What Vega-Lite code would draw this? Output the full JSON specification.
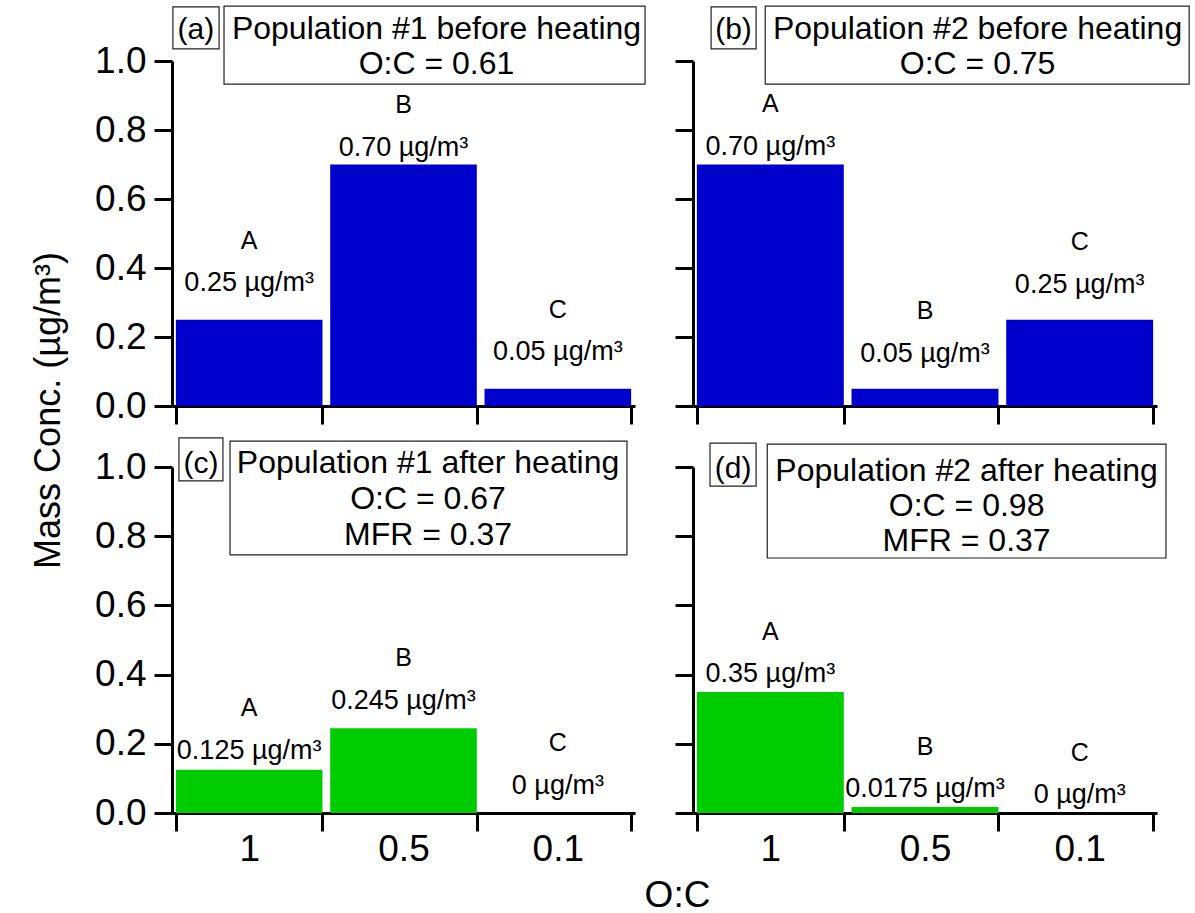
{
  "$schema": "https://vega.github.io/schema/vega-lite/v6.json",
  "background": "white",
  "padding": {"left": 30, "top": 5, "right": 0, "bottom": 0},
  "datasets": {
    "bars": [
      {"panel": "a", "oc": "1", "conc": 0.25, "name": "A", "label": "0.25 µg/m³"},
      {"panel": "a", "oc": "0.5", "conc": 0.70, "name": "B", "label": "0.70 µg/m³"},
      {"panel": "a", "oc": "0.1", "conc": 0.05, "name": "C", "label": "0.05 µg/m³"},
      {"panel": "b", "oc": "1", "conc": 0.70, "name": "A", "label": "0.70 µg/m³"},
      {"panel": "b", "oc": "0.5", "conc": 0.05, "name": "B", "label": "0.05 µg/m³"},
      {"panel": "b", "oc": "0.1", "conc": 0.25, "name": "C", "label": "0.25 µg/m³"},
      {"panel": "c", "oc": "1", "conc": 0.125, "name": "A", "label": "0.125 µg/m³"},
      {"panel": "c", "oc": "0.5", "conc": 0.245, "name": "B", "label": "0.245 µg/m³"},
      {"panel": "c", "oc": "0.1", "conc": 0, "name": "C", "label": "0 µg/m³"},
      {"panel": "d", "oc": "1", "conc": 0.35, "name": "A", "label": "0.35 µg/m³"},
      {"panel": "d", "oc": "0.5", "conc": 0.0175, "name": "B", "label": "0.0175 µg/m³"},
      {"panel": "d", "oc": "0.1", "conc": 0, "name": "C", "label": "0 µg/m³"}
    ],
    "notes": [
      {"panel": "a", "tag": "(a)", "title": "Population #1 before heating\nO:C = 0.61"},
      {"panel": "b", "tag": "(b)", "title": "Population #2 before heating\nO:C = 0.75"},
      {"panel": "c", "tag": "(c)", "title": "Population #1 after heating\nO:C = 0.67\nMFR = 0.37"},
      {"panel": "d", "tag": "(d)", "title": "Population #2 after heating\nO:C = 0.98\nMFR = 0.37"}
    ]
  },
  "concat": [
    {
      "width": 463, "height": 345,
      "layer": [
        {
          "data": {"name": "bars"},
          "transform": [{"filter": "datum.panel === 'a'"}],
          "encoding": {
            "x": {"field": "oc", "type": "nominal", "sort": ["1", "0.5", "0.1"],
              "scale": {"domain": ["1", "0.5", "0.1"], "paddingInner": 0.05, "paddingOuter": 0.025},
              "axis": {"labels": false, "title": null, "tickBand": "extent", "tickSize": 18, "tickWidth": 3, "domainWidth": 3}},
            "y": {"field": "conc", "type": "quantitative", "scale": {"domain": [0, 1], "nice": false},
              "axis": {"values": [0, 0.2, 0.4, 0.6, 0.8, 1.0], "format": ".1f", "tickSize": 18, "tickWidth": 3, "domainWidth": 3,
                "labelFontSize": 37, "labelPadding": 8,
                "title": "Mass Conc. (µg/m³)", "titleFontSize": 36, "titleX": -124, "titleY": 349, "titleAngle": 270,
                "titleAlign": "center", "titleBaseline": "middle"}}
          },
          "layer": [
            {"mark": {"type": "bar", "color": "#0000CC"}},
            {"transform": [{"filter": "datum.conc > 0.5"}], "mark": {"type": "text", "fontSize": 27, "dy": -9, "baseline": "alphabetic"}, "encoding": {"text": {"field": "label"}}},
            {"transform": [{"filter": "datum.conc <= 0.5"}], "mark": {"type": "text", "fontSize": 27, "dy": -29, "baseline": "alphabetic"}, "encoding": {"text": {"field": "label"}}},
            {"transform": [{"filter": "datum.conc > 0.5"}], "mark": {"type": "text", "fontSize": 25, "dy": -52, "baseline": "alphabetic"}, "encoding": {"text": {"field": "name"}}},
            {"transform": [{"filter": "datum.conc <= 0.5"}], "mark": {"type": "text", "fontSize": 25, "dy": -71, "baseline": "alphabetic"}, "encoding": {"text": {"field": "name"}}}
          ]
        },
        {
          "data": {"name": "notes"},
          "transform": [{"filter": "datum.panel === 'a'"}],
          "layer": [
            {"mark": {"type": "rect", "fill": "white", "stroke": "#222222", "strokeWidth": 1.2},
              "encoding": {"x": {"datum": 0.006, "type": "quantitative", "scale": {"domain": [0, 3]}, "axis": null}, "x2": {"datum": 0.305},
                "y": {"datum": 1.157, "type": "quantitative"}, "y2": {"datum": 1.035}}},
            {"mark": {"type": "rect", "fill": "white", "stroke": "#222222", "strokeWidth": 1.2},
              "encoding": {"x": {"datum": 0.337, "type": "quantitative", "scale": {"domain": [0, 3]}, "axis": null}, "x2": {"datum": 3.065},
                "y": {"datum": 1.159, "type": "quantitative"}, "y2": {"datum": 0.933}}},
            {"mark": {"type": "text", "fontSize": 30, "align": "center", "baseline": "alphabetic"},
              "encoding": {"x": {"datum": 0.155, "type": "quantitative", "scale": {"domain": [0, 3]}, "axis": null},
                "y": {"datum": 1.064, "type": "quantitative"}, "text": {"field": "tag"}}},
            {"mark": {"type": "text", "fontSize": 32, "align": "center", "baseline": "alphabetic", "lineBreak": "\n", "lineHeight": 35},
              "encoding": {"x": {"datum": 1.714, "type": "quantitative", "scale": {"domain": [0, 3]}, "axis": null},
                "y": {"datum": 1.064, "type": "quantitative"}, "text": {"field": "title"}}}
          ]
        }
      ],
      "resolve": {"scale": {"x": "independent"}}
    },
    {
      "width": 464, "height": 345,
      "layer": [
        {
          "data": {"name": "bars"},
          "transform": [{"filter": "datum.panel === 'b'"}],
          "encoding": {
            "x": {"field": "oc", "type": "nominal", "sort": ["1", "0.5", "0.1"],
              "scale": {"domain": ["1", "0.5", "0.1"], "paddingInner": 0.05, "paddingOuter": 0.025},
              "axis": {"labels": false, "title": null, "tickBand": "extent", "tickSize": 18, "tickWidth": 3, "domainWidth": 3}},
            "y": {"field": "conc", "type": "quantitative", "scale": {"domain": [0, 1], "nice": false},
              "axis": {"values": [0, 0.2, 0.4, 0.6, 0.8, 1.0], "labels": false, "tickSize": 18, "tickWidth": 3, "domainWidth": 3, "title": null}}
          },
          "layer": [
            {"mark": {"type": "bar", "color": "#0000CC"}},
            {"transform": [{"filter": "datum.conc > 0.5"}], "mark": {"type": "text", "fontSize": 27, "dy": -10, "baseline": "alphabetic"}, "encoding": {"text": {"field": "label"}}},
            {"transform": [{"filter": "datum.conc <= 0.5"}], "mark": {"type": "text", "fontSize": 27, "dy": -27, "baseline": "alphabetic"}, "encoding": {"text": {"field": "label"}}},
            {"transform": [{"filter": "datum.conc > 0.5"}], "mark": {"type": "text", "fontSize": 25, "dy": -53, "baseline": "alphabetic"}, "encoding": {"text": {"field": "name"}}},
            {"transform": [{"filter": "datum.conc <= 0.5"}], "mark": {"type": "text", "fontSize": 25, "dy": -70, "baseline": "alphabetic"}, "encoding": {"text": {"field": "name"}}}
          ]
        },
        {
          "data": {"name": "notes"},
          "transform": [{"filter": "datum.panel === 'b'"}],
          "layer": [
            {"mark": {"type": "rect", "fill": "white", "stroke": "#222222", "strokeWidth": 1.2},
              "encoding": {"x": {"datum": 0.117, "type": "quantitative", "scale": {"domain": [0, 3]}, "axis": null}, "x2": {"datum": 0.408},
                "y": {"datum": 1.157, "type": "quantitative"}, "y2": {"datum": 1.035}}},
            {"mark": {"type": "rect", "fill": "white", "stroke": "#222222", "strokeWidth": 1.2},
              "encoding": {"x": {"datum": 0.467, "type": "quantitative", "scale": {"domain": [0, 3]}, "axis": null}, "x2": {"datum": 3.208},
                "y": {"datum": 1.159, "type": "quantitative"}, "y2": {"datum": 0.933}}},
            {"mark": {"type": "text", "fontSize": 30, "align": "center", "baseline": "alphabetic"},
              "encoding": {"x": {"datum": 0.262, "type": "quantitative", "scale": {"domain": [0, 3]}, "axis": null},
                "y": {"datum": 1.064, "type": "quantitative"}, "text": {"field": "tag"}}},
            {"mark": {"type": "text", "fontSize": 32, "align": "center", "baseline": "alphabetic", "lineBreak": "\n", "lineHeight": 35},
              "encoding": {"x": {"datum": 1.84, "type": "quantitative", "scale": {"domain": [0, 3]}, "axis": null},
                "y": {"datum": 1.064, "type": "quantitative"}, "text": {"field": "title"}}}
          ]
        }
      ],
      "resolve": {"scale": {"x": "independent"}}
    },
    {
      "width": 463, "height": 346,
      "layer": [
        {
          "data": {"name": "bars"},
          "transform": [{"filter": "datum.panel === 'c'"}],
          "encoding": {
            "x": {"field": "oc", "type": "nominal", "sort": ["1", "0.5", "0.1"],
              "scale": {"domain": ["1", "0.5", "0.1"], "paddingInner": 0.05, "paddingOuter": 0.025},
              "axis": {"labelAngle": 0, "labelFontSize": 37, "labelPadding": 0, "tickBand": "extent", "tickSize": 18, "tickWidth": 3, "domainWidth": 3,
                "title": "O:C", "titleFontSize": 37, "titleX": 505, "titleY": 93, "titleAlign": "center", "titleBaseline": "alphabetic"}},
            "y": {"field": "conc", "type": "quantitative", "scale": {"domain": [0, 1], "nice": false},
              "axis": {"values": [0, 0.2, 0.4, 0.6, 0.8, 1.0], "format": ".1f", "tickSize": 18, "tickWidth": 3, "domainWidth": 3,
                "labelFontSize": 37, "labelPadding": 8, "title": null}}
          },
          "layer": [
            {"mark": {"type": "bar", "color": "#00CC00"}},
            {"transform": [{"filter": "datum.oc === '1'"}], "mark": {"type": "text", "fontSize": 27, "dy": -11, "baseline": "alphabetic"}, "encoding": {"text": {"field": "label"}}},
            {"transform": [{"filter": "datum.oc !== '1'"}], "mark": {"type": "text", "fontSize": 27, "dy": -19, "baseline": "alphabetic"}, "encoding": {"text": {"field": "label"}}},
            {"transform": [{"filter": "datum.oc === '1'"}], "mark": {"type": "text", "fontSize": 25, "dy": -54, "baseline": "alphabetic"}, "encoding": {"text": {"field": "name"}}},
            {"transform": [{"filter": "datum.oc !== '1'"}], "mark": {"type": "text", "fontSize": 25, "dy": -62, "baseline": "alphabetic"}, "encoding": {"text": {"field": "name"}}}
          ]
        },
        {
          "data": {"name": "notes"},
          "transform": [{"filter": "datum.panel === 'c'"}],
          "layer": [
            {"mark": {"type": "rect", "fill": "white", "stroke": "#222222", "strokeWidth": 1.2},
              "encoding": {"x": {"datum": 0.045, "type": "quantitative", "scale": {"domain": [0, 3]}, "axis": null}, "x2": {"datum": 0.330},
                "y": {"datum": 1.084, "type": "quantitative"}, "y2": {"datum": 0.960}}},
            {"mark": {"type": "rect", "fill": "white", "stroke": "#222222", "strokeWidth": 1.2},
              "encoding": {"x": {"datum": 0.376, "type": "quantitative", "scale": {"domain": [0, 3]}, "axis": null}, "x2": {"datum": 2.948},
                "y": {"datum": 1.075, "type": "quantitative"}, "y2": {"datum": 0.746}}},
            {"mark": {"type": "text", "fontSize": 30, "align": "center", "baseline": "alphabetic"},
              "encoding": {"x": {"datum": 0.188, "type": "quantitative", "scale": {"domain": [0, 3]}, "axis": null},
                "y": {"datum": 0.983, "type": "quantitative"}, "text": {"field": "tag"}}},
            {"mark": {"type": "text", "fontSize": 32, "align": "center", "baseline": "alphabetic", "lineBreak": "\n", "lineHeight": 36},
              "encoding": {"x": {"datum": 1.659, "type": "quantitative", "scale": {"domain": [0, 3]}, "axis": null},
                "y": {"datum": 0.983, "type": "quantitative"}, "text": {"field": "title"}}}
          ]
        }
      ],
      "resolve": {"scale": {"x": "independent"}}
    },
    {
      "width": 464, "height": 346,
      "layer": [
        {
          "data": {"name": "bars"},
          "transform": [{"filter": "datum.panel === 'd'"}],
          "encoding": {
            "x": {"field": "oc", "type": "nominal", "sort": ["1", "0.5", "0.1"],
              "scale": {"domain": ["1", "0.5", "0.1"], "paddingInner": 0.05, "paddingOuter": 0.025},
              "axis": {"labelAngle": 0, "labelFontSize": 37, "labelPadding": 0, "tickBand": "extent", "tickSize": 18, "tickWidth": 3, "domainWidth": 3, "title": null}},
            "y": {"field": "conc", "type": "quantitative", "scale": {"domain": [0, 1], "nice": false},
              "axis": {"values": [0, 0.2, 0.4, 0.6, 0.8, 1.0], "labels": false, "tickSize": 18, "tickWidth": 3, "domainWidth": 3, "title": null}}
          },
          "layer": [
            {"mark": {"type": "bar", "color": "#00CC00"}},
            {"mark": {"type": "text", "fontSize": 27, "dy": -10, "baseline": "alphabetic"}, "encoding": {"text": {"field": "label"}}},
            {"mark": {"type": "text", "fontSize": 25, "dy": -52, "baseline": "alphabetic"}, "encoding": {"text": {"field": "name"}}}
          ]
        },
        {
          "data": {"name": "notes"},
          "transform": [{"filter": "datum.panel === 'd'"}],
          "layer": [
            {"mark": {"type": "rect", "fill": "white", "stroke": "#222222", "strokeWidth": 1.2},
              "encoding": {"x": {"datum": 0.110, "type": "quantitative", "scale": {"domain": [0, 3]}, "axis": null}, "x2": {"datum": 0.408},
                "y": {"datum": 1.069, "type": "quantitative"}, "y2": {"datum": 0.945}}},
            {"mark": {"type": "rect", "fill": "white", "stroke": "#222222", "strokeWidth": 1.2},
              "encoding": {"x": {"datum": 0.480, "type": "quantitative", "scale": {"domain": [0, 3]}, "axis": null}, "x2": {"datum": 3.058},
                "y": {"datum": 1.066, "type": "quantitative"}, "y2": {"datum": 0.737}}},
            {"mark": {"type": "text", "fontSize": 30, "align": "center", "baseline": "alphabetic"},
              "encoding": {"x": {"datum": 0.259, "type": "quantitative", "scale": {"domain": [0, 3]}, "axis": null},
                "y": {"datum": 0.968, "type": "quantitative"}, "text": {"field": "tag"}}},
            {"mark": {"type": "text", "fontSize": 32, "align": "center", "baseline": "alphabetic", "lineBreak": "\n", "lineHeight": 35},
              "encoding": {"x": {"datum": 1.769, "type": "quantitative", "scale": {"domain": [0, 3]}, "axis": null},
                "y": {"datum": 0.960, "type": "quantitative"}, "text": {"field": "title"}}}
          ]
        }
      ],
      "resolve": {"scale": {"x": "independent"}}
    }
  ],
  "columns": 2,
  "spacing": {"row": 61, "column": 58},
  "bounds": "flush",
  "config": {
    "font": "Liberation Sans",
    "view": {"stroke": null},
    "axis": {"domainColor": "black", "tickColor": "black", "labelColor": "black", "titleColor": "black", "grid": false,
      "titleFontWeight": "normal", "zindex": 1, "labelFont": "Liberation Sans", "titleFont": "Liberation Sans"},
    "text": {"font": "Liberation Sans", "color": "black"}
  }
}
